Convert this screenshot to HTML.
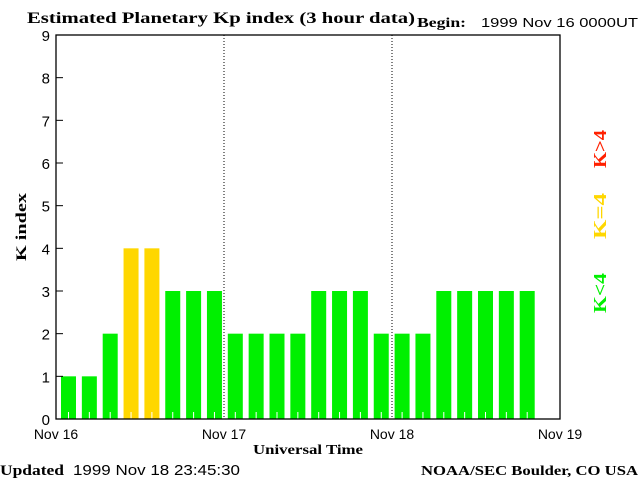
<!DOCTYPE html>
<html><head><meta charset="utf-8"><style>
body{margin:0;background:#fff;}
svg{display:block;font-family:"Liberation Sans",sans-serif;}
.serif{font-family:"Liberation Serif",serif;font-weight:bold;}
</style></head><body>
<svg id="chart" width="640" height="480" viewBox="0 0 640 480">
<text class="serif" x="27" y="23" font-size="16" textLength="388" lengthAdjust="spacingAndGlyphs">Estimated Planetary Kp index (3 hour data)</text>
<text class="serif" x="417" y="27" font-size="14" textLength="49" lengthAdjust="spacingAndGlyphs">Begin:</text>
<text x="481" y="27" font-size="13" textLength="157" lengthAdjust="spacingAndGlyphs">1999 Nov 16 0000UT</text>
<g id="bars"></g>
<g id="axes"></g>
<text class="serif" transform="translate(26,227) rotate(-90)" text-anchor="middle" font-size="15" textLength="68" lengthAdjust="spacingAndGlyphs">K index</text>
<text class="serif" x="253" y="454" font-size="14" textLength="110" lengthAdjust="spacingAndGlyphs">Universal Time</text>
<text class="serif" x="0" y="475" font-size="15" textLength="64" lengthAdjust="spacingAndGlyphs">Updated</text>
<text x="73" y="475" font-size="15" textLength="167" lengthAdjust="spacingAndGlyphs">1999 Nov 18 23:45:30</text>
<text class="serif" x="421" y="475" font-size="14" textLength="217" lengthAdjust="spacingAndGlyphs">NOAA/SEC Boulder, CO USA</text>
<text class="serif" transform="translate(606,149) rotate(-90)" text-anchor="middle" font-size="18" textLength="38" lengthAdjust="spacingAndGlyphs" fill="#ff2000">K&gt;4</text>
<text class="serif" transform="translate(606,216) rotate(-90)" text-anchor="middle" font-size="18" textLength="46" lengthAdjust="spacingAndGlyphs" fill="#ffd700">K=4</text>
<text class="serif" transform="translate(606,293) rotate(-90)" text-anchor="middle" font-size="18" textLength="40" lengthAdjust="spacingAndGlyphs" fill="#00f000">K&lt;4</text>
</svg>
<script>
const kpValues = [1,1,2,4,4,3,3,3, 2,2,2,2,3,3,3,2, 2,2,3,3,3,3,3];
const yTicks = [0,1,2,3,4,5,6,7,8,9];
const dayLabels = ["Nov 16","Nov 17","Nov 18","Nov 19"];
const NS="http://www.w3.org/2000/svg";
const L=56,R=560,T=35,B=419;
const slotsPerDay=8, days=3;
const slotW=(R-L)/(slotsPerDay*days);
const barStep=20.85;
function y(v){return B-(B-T)*v/9;}
function x(i){return L+i*slotW;}
function bx(i){return L+5+i*barStep;}
function mk(t,a,p){const e=document.createElementNS(NS,t);for(const k in a)e.setAttribute(k,a[k]);p.appendChild(e);return e;}
const bars=document.getElementById('bars'), axes=document.getElementById('axes');
kpValues.forEach((v,i)=>{
  const c=v>4?'#ff2000':(v==4?'#ffd700':'#00f000');
  const r=mk('rect',{x:bx(i),y:y(v),width:15,height:B-y(v),fill:c},bars);
  
  
  const tk=mk('line',{x1:bx(i)+7.5,x2:bx(i)+7.5,y1:B-7,y2:B,stroke:'#fff','stroke-width':1},bars);
  
  
});
mk('rect',{x:L,y:T,width:R-L,height:B-T,fill:'none',stroke:'#000','stroke-width':1.3},axes);
for(let d=1;d<days;d++){
  const ln=mk('line',{x1:x(d*8),x2:x(d*8),y1:T,y2:B,stroke:'#000','stroke-dasharray':'1,2'},axes);
  
  
}
yTicks.forEach(v=>{
  mk('line',{x1:L,x2:L+7,y1:y(v),y2:y(v),stroke:'#000'},axes);
  const t=mk('text',{x:L-6,y:y(v)+6,'text-anchor':'end','font-size':15},axes);
  t.textContent=v;
  
  
});
dayLabels.forEach((s,d)=>{
  const t=mk('text',{x:x(d*8),y:439,'text-anchor':'middle','font-size':14},axes);
  t.textContent=s;
  
  
});
</script>
</body></html>
